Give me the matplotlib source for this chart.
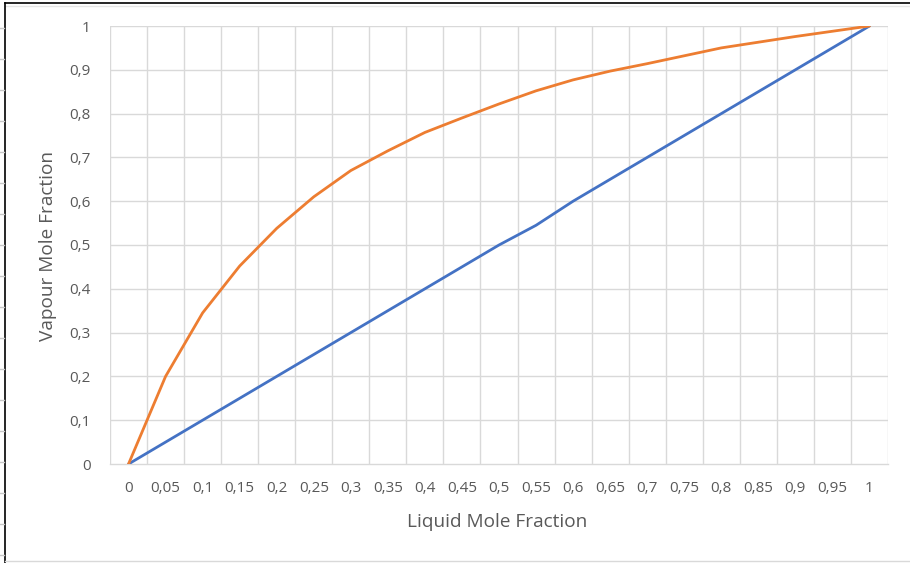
import numpy as np
import matplotlib
matplotlib.use("Agg")
from matplotlib import pyplot as plt
from matplotlib.lines import Line2D

plt.rcParams['font.family'] = ['Open Sans', 'DejaVu Sans']

# liquid mole fraction categories
x_labels = ["0", "0,05", "0,1", "0,15", "0,2", "0,25", "0,3", "0,35", "0,4", "0,45", "0,5",
            "0,55", "0,6", "0,65", "0,7", "0,75", "0,8", "0,85", "0,9", "0,95", "1"]
# diagonal y = x line
diagonal = [0, 0.05, 0.1, 0.15, 0.2, 0.25, 0.3, 0.35, 0.4, 0.45, 0.5,
            0.545, 0.6, 0.65, 0.7, 0.75, 0.8, 0.85, 0.9, 0.95, 1.0]
# equilibrium vapour mole fraction
vapour = [0, 0.2, 0.345, 0.452, 0.538, 0.61, 0.67, 0.715, 0.757, 0.79, 0.822,
          0.852, 0.877, 0.897, 0.914, 0.932, 0.95, 0.963, 0.976, 0.988, 1.0]
y_ticks = [0, 0.1, 0.2, 0.3, 0.4, 0.5, 0.6, 0.7, 0.8, 0.9, 1.0]

W, H = 910, 563
fig = plt.figure(figsize=(W / 100, H / 100), dpi=100)
ax = fig.add_axes([110 / W, 1 - 464 / H, (888 - 110) / W, (464 - 26) / H])

pos = np.arange(len(x_labels))
ax.plot(pos, diagonal, color='#4472C4', lw=2.0, solid_capstyle='round', zorder=3)
ax.plot(pos, vapour, color='#ED7D31', lw=2.0, solid_capstyle='round', zorder=3)

ax.set_xlim(-0.5, len(x_labels) - 0.5)
ax.set_ylim(0, 1)

grid_c = '#d9d9d9'
# vertical grid between categories
for gx in np.arange(-0.5, len(x_labels), 1.0):
    ax.axvline(gx, color=grid_c, lw=1.0, zorder=1)
for gy in y_ticks[1:]:
    ax.axhline(gy, color=grid_c, lw=1.0, zorder=1)

for s in ['top', 'right', 'left']:
    ax.spines[s].set_visible(False)
ax.spines['bottom'].set_color(grid_c)
ax.spines['bottom'].set_linewidth(1.0)

ax.set_xticks(pos)
ax.set_xticklabels(x_labels)
ax.set_yticks(y_ticks)
ax.set_yticklabels([f"{v:g}".replace('.', ',') for v in y_ticks])
ax.tick_params(axis='both', length=0, colors='#595959', labelsize=11)
ax.tick_params(axis='x', pad=12)
ax.tick_params(axis='y', pad=14)

fig.text(497 / W, 1 - 522 / H, "Liquid Mole Fraction", ha='center', va='center',
         fontsize=13.7, color='#595959')
fig.text(48 / W, 1 - 246 / H, "Vapour Mole Fraction", ha='center', va='center',
         rotation=90, fontsize=13.7, color='#595959')

# sheet border around the chart
fig.add_artist(Line2D([5 / W, 1], [1 - 3 / H, 1 - 3 / H], color='black', lw=1.2))
fig.add_artist(Line2D([5 / W, 1], [1 - 6 / H, 1 - 6 / H], color='#e6e6e6', lw=1.0))
fig.add_artist(Line2D([5 / W, 5 / W], [0, 1 - 3 / H], color='black', lw=1.2))
fig.add_artist(Line2D([5 / W, 1], [1 - 561 / H, 1 - 561 / H], color='#d9d9d9', lw=1.0))
for ry in np.arange(28, H, 31):
    fig.add_artist(Line2D([0, 4 / W], [1 - ry / H, 1 - ry / H], color='#c8c8c8', lw=1.0))

fig.savefig("out.png", dpi=100)
